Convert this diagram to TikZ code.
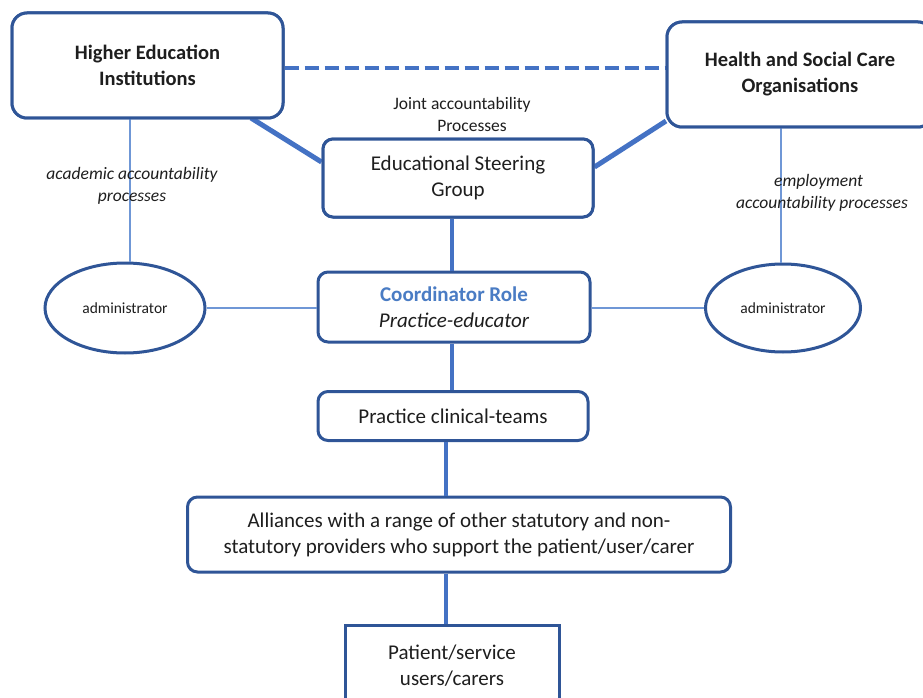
\documentclass[tikz,border=0pt]{standalone}
\usepackage{fontspec}
\setmainfont{Carlito}
\usetikzlibrary{shapes.geometric}
\definecolor{boxblue}{HTML}{2F5597}
\definecolor{lineblue}{HTML}{4472C4}
\definecolor{thinblue}{HTML}{6F97D6}
\definecolor{roleblue}{HTML}{4A7CC4}
\definecolor{textgrey}{HTML}{1E1E1E}
\tikzset{
  orgbox/.style={draw=boxblue, line width=3pt, rounded corners=15pt, fill=white,
    align=center, text=textgrey, font=\fontsize{20.5}{26}\selectfont\bfseries, inner sep=0pt},
  unitbox/.style={draw=boxblue, line width=3pt, rounded corners=10pt, fill=white,
    align=center, text=textgrey, font=\fontsize{21}{26}\selectfont, inner sep=0pt},
  adminell/.style={draw=boxblue, line width=3pt, ellipse, fill=white, inner sep=0pt,
    text=textgrey, font=\fontsize{15.5}{18}\selectfont},
  thickline/.style={lineblue, line width=5pt},
  midline/.style={lineblue, line width=3.5pt},
  thinline/.style={thinblue, line width=2pt},
  note/.style={align=center, text=textgrey, font=\fontsize{17.5}{22}\selectfont},
}
\begin{document}
\begin{tikzpicture}[x=1pt,y=-1pt]
\useasboundingbox (0,0) rectangle (923,698);
\clip (0,0) rectangle (923,698);

% top-level organisations
\node[orgbox, minimum width=271pt, minimum height=105pt] (hei) at (147.5,65.5)
  {Higher Education\\Institutions};
\node[orgbox, minimum width=266pt, minimum height=105pt] (hsc) at (800,74.5)
  {Health and Social Care\\Organisations};

% central chain
\node[unitbox, minimum width=270pt, minimum height=78pt] (esg) at (458,178)
  {Educational Steering\\Group};
\node[unitbox, minimum width=272pt, minimum height=70pt] (coord) at (454,307)
  {\textcolor{roleblue}{\bfseries Coordinator Role}\\\itshape Practice-educator};
\node[unitbox, minimum width=270pt, minimum height=49pt] (pct) at (453,416)
  {Practice clinical-teams};
\node[unitbox, minimum width=543pt, minimum height=75pt] (ali) at (459,534.5)
  {Alliances with a range of other statutory and non-\\statutory providers who support the patient/user/carer};
\node[unitbox, rounded corners=0pt, minimum width=214pt, minimum height=82pt] (pat) at (452,666)
  {Patient/service\\users/carers};

% administrators
\node[adminell, minimum width=160pt, minimum height=90pt] (adl) at (125,308) {administrator};
\node[adminell, minimum width=155pt, minimum height=88pt] (adr) at (783,308) {administrator};

% joint accountability (dashed link between organisations)
\draw[lineblue, line width=4pt, dash pattern=on 14pt off 6pt] (hei.east |- 0,68) -- (hsc.west |- 0,68);
\node[note] (joint) at (462,114)
  {Joint accountability\\\hspace*{20pt}Processes};

% organisations to the steering group
\coordinate (heiout) at (251,118);
\coordinate (hscout) at (666,121);
\draw[thickline] (heiout) -- (esg.west |- 0,162);
\draw[thickline] (hscout) -- (esg.east |- 0,167);

% accountability lines to administrators
\coordinate (heidown) at (130,118);
\coordinate (hscdown) at (781,127);
\draw[thinline] (heidown) -- (heidown |- adl.north);
\draw[thinline] (hscdown) -- (hscdown |- adr.north);
\node[note, font=\fontsize{17.5}{22}\selectfont\itshape] (acad) at (132,186)
  {academic accountability\\processes};
\node[note, font=\fontsize{17.5}{22}\selectfont\itshape, align=left] (empl) at (822,193)
  {\hspace*{38pt}employment\\accountability processes};

% administrators to the coordinator
\draw[thinline] (adl.east) -- (coord.west |- adl.east);
\draw[thinline] (coord.east |- adr.west) -- (adr.west);

% vertical chain
\draw[midline] (esg.south -| 452,0) -- (coord.north -| 452,0);
\draw[midline] (coord.south -| 452,0) -- (pct.north -| 452,0);
\draw[midline] (pct.south -| 446,0) -- (ali.north -| 446,0);
\draw[midline] (ali.south -| 446,0) -- (pat.north -| 446,0);

% boxes redrawn over the connector ends
\node[orgbox, minimum width=271pt, minimum height=105pt] at (hei) {Higher Education\\Institutions};
\node[orgbox, minimum width=266pt, minimum height=105pt] at (hsc) {Health and Social Care\\Organisations};
\node[unitbox, minimum width=270pt, minimum height=78pt] at (esg) {Educational Steering\\Group};
\end{tikzpicture}
\end{document}
